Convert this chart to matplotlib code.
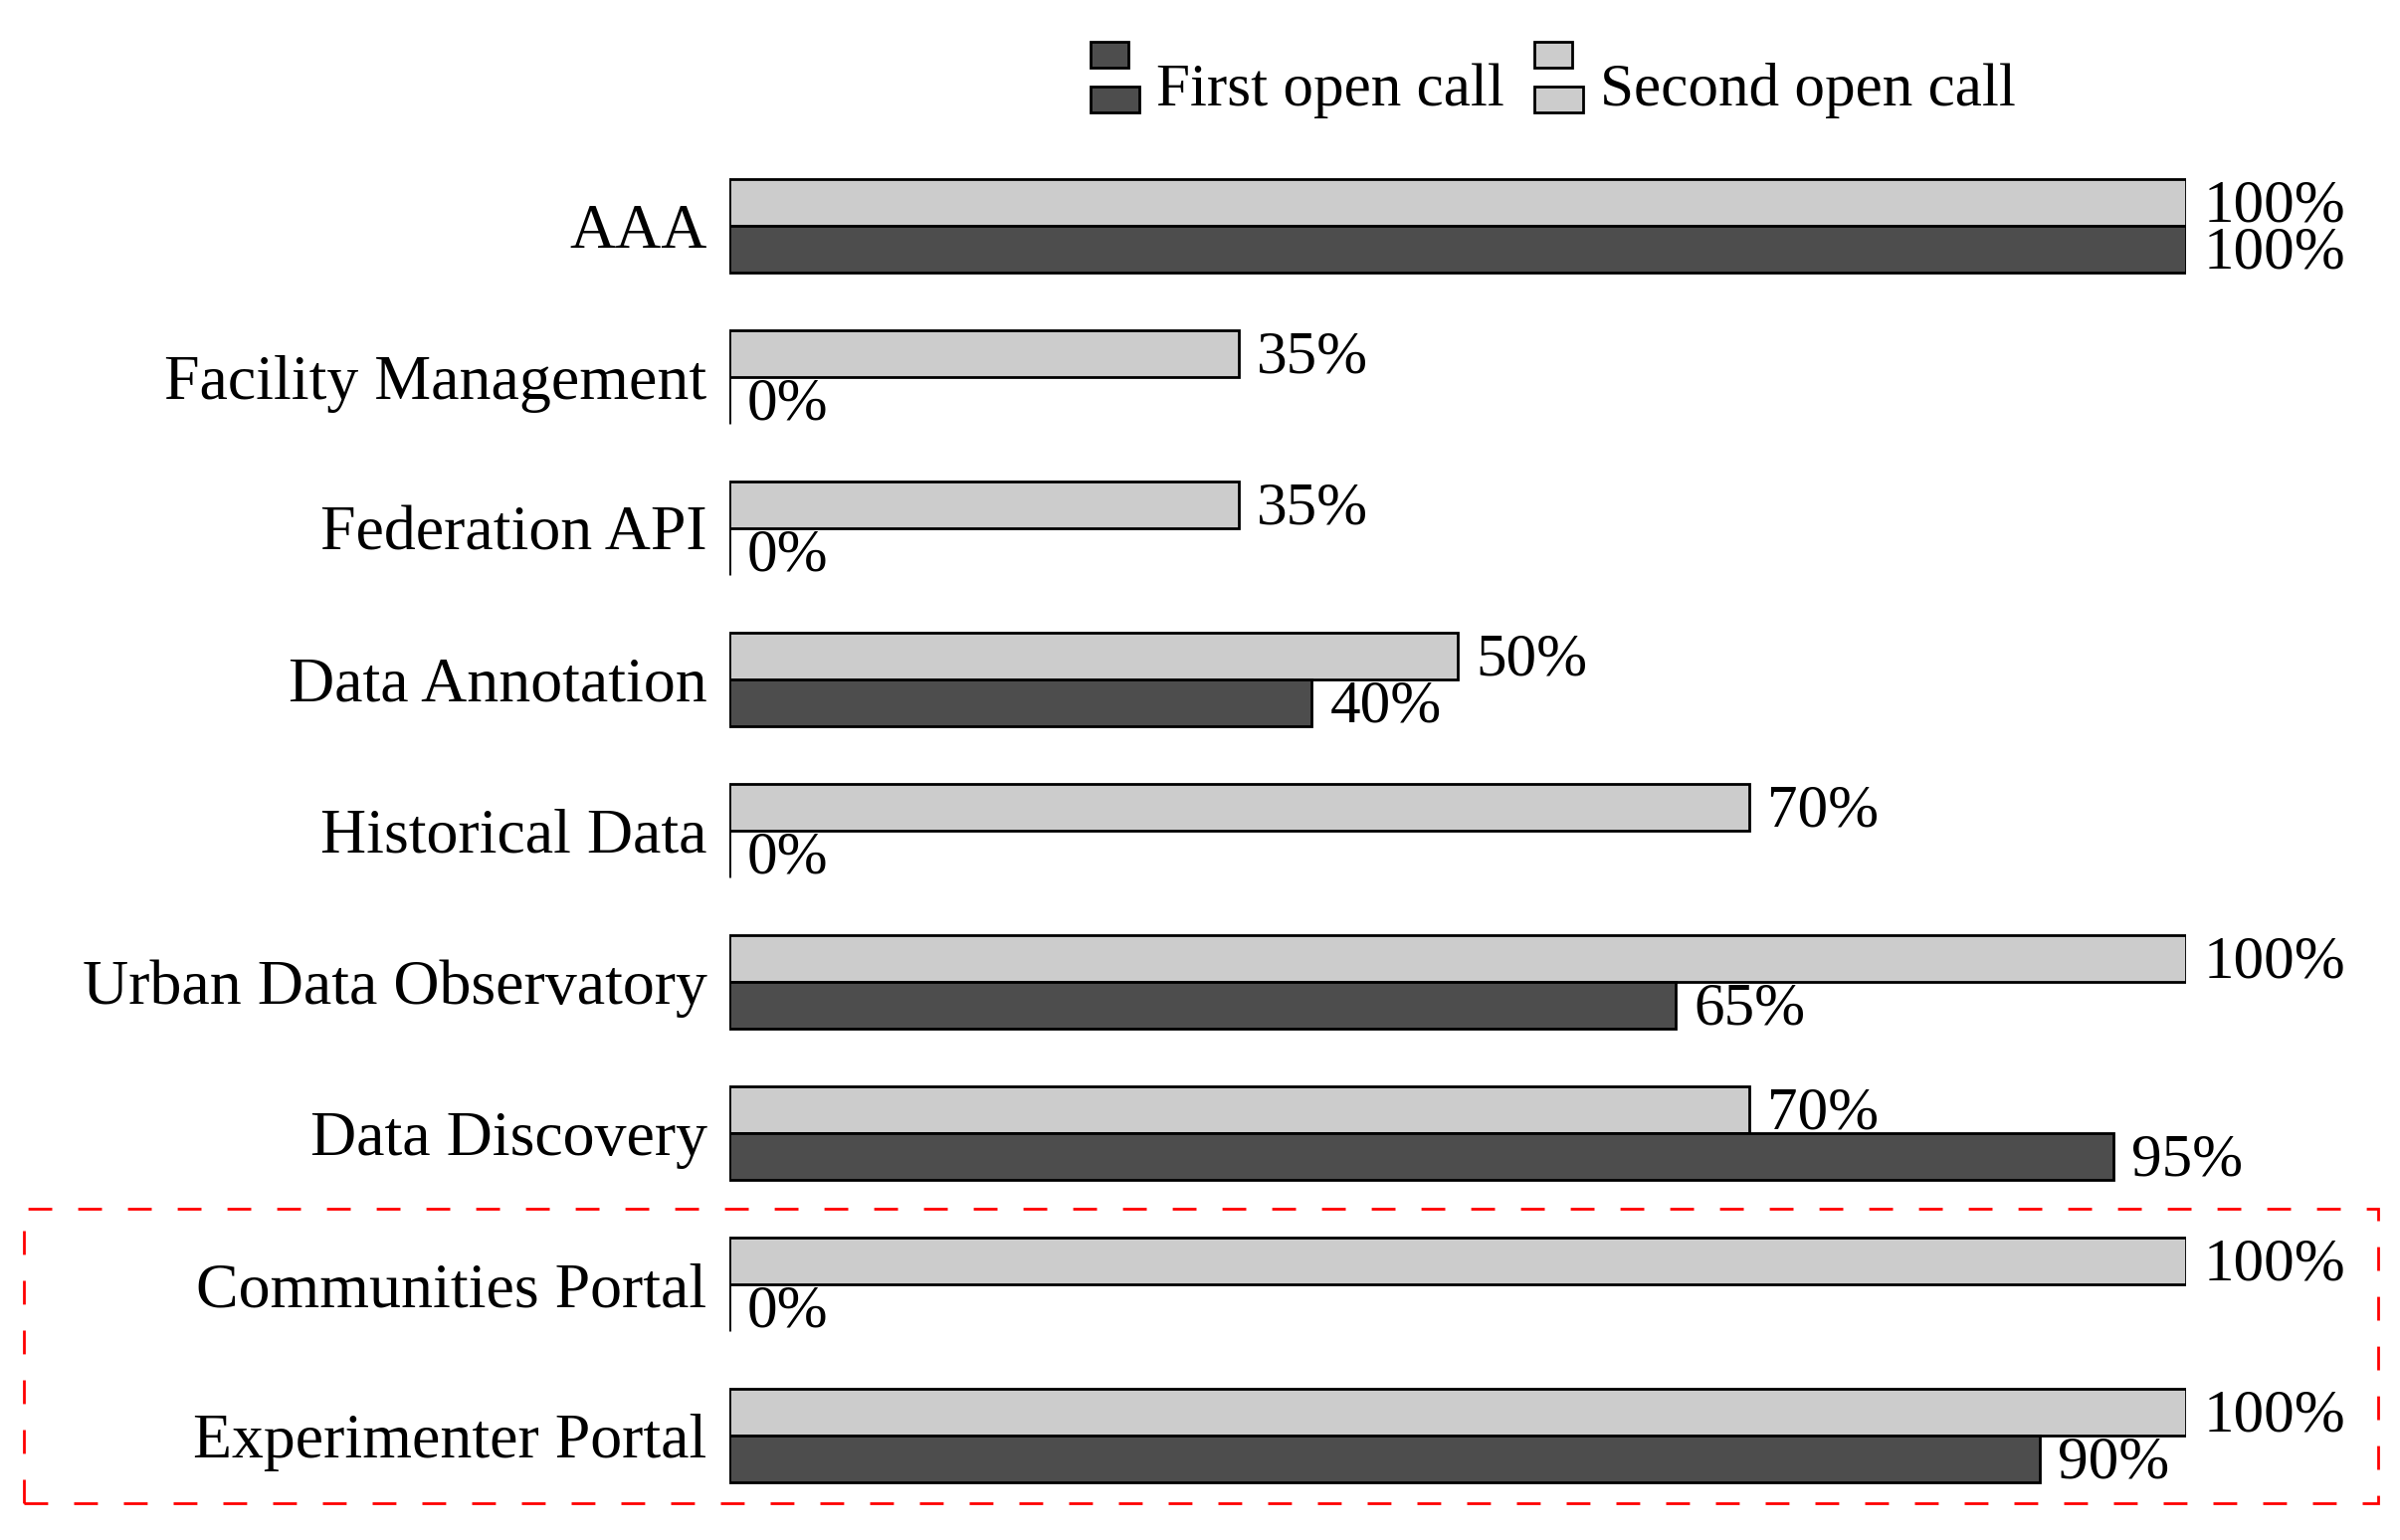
import matplotlib
matplotlib.use('Agg')
import matplotlib.pyplot as plt
from matplotlib.patches import Rectangle
from matplotlib.legend_handler import HandlerBase

categories = ['AAA', 'Facility Management', 'Federation API', 'Data Annotation',
              'Historical Data', 'Urban Data Observatory', 'Data Discovery',
              'Communities Portal', 'Experimenter Portal']
first_call = [100, 0, 0, 40, 0, 65, 95, 0, 90]
second_call = [100, 35, 35, 50, 70, 100, 70, 100, 100]
series_names = ['First open call', 'Second open call']

DARK = '#4d4d4d'
LIGHT = '#cccccc'

plt.rcParams['font.family'] = ['Liberation Serif', 'DejaVu Serif']
plt.rcParams['font.size'] = 22


# pgfplots-style legend image: two stacked little bars
class TwoBarHandler(HandlerBase):
    def create_artists(self, legend, orig_handle, xdescent, ydescent,
                       width, height, fontsize, trans):
        fc = orig_handle.get_facecolor()
        bh = height * 27 / 75
        shift = height * 0.12
        low = Rectangle((-xdescent, -ydescent + shift), width, bh,
                        facecolor=fc, edgecolor='black', linewidth=1, transform=trans)
        top = Rectangle((-xdescent, -ydescent + shift + height * 48 / 75), width * 38 / 49, bh,
                        facecolor=fc, edgecolor='black', linewidth=1, transform=trans)
        return [low, top]


fig = plt.figure(figsize=(12.06, 7.74), dpi=200)
ax = fig.add_axes([0.3038, 0.0187, 0.607, 0.8838])

y = list(range(len(categories)))
h = 0.31
second = ax.barh([i - h / 2 for i in y], second_call, height=h,
                 color=LIGHT, edgecolor='black', linewidth=1)
first = ax.barh([i + h / 2 for i in y], first_call, height=h,
                color=DARK, edgecolor='black', linewidth=1)

for bars, vals in ((second, second_call), (first, first_call)):
    for b, v in zip(bars, vals):
        ax.annotate(f'{v}%', xy=(v, b.get_y() + b.get_height() / 2),
                    xytext=(6.5, -1.5), textcoords='offset points',
                    ha='left', va='center')

ax.set_xlim(0, 100)
ax.set_ylim(len(categories) - 0.5, -0.5)
ax.set_yticks(y)
ax.set_yticklabels(categories, fontsize=23)
ax.tick_params(axis='y', length=0, pad=8)
ax.xaxis.set_visible(False)
for s in ax.spines.values():
    s.set_visible(False)

fig.legend([first[0], second[0]], series_names, handler_map={Rectangle: TwoBarHandler()},
           loc='center left', bbox_to_anchor=(1096 / 2412, 1 - 86 / 1548),
           ncol=2, frameon=False, borderpad=0, borderaxespad=0,
           handlelength=0.80, handleheight=1.4, handletextpad=0.28, columnspacing=0.5)

# red dashed box around the portals
box = Rectangle((24 / 2412, 1 - 1511 / 1548), (2390 - 24) / 2412, (1511 - 1215) / 1548,
                transform=fig.transFigure, fill=False, edgecolor='red',
                linewidth=1, linestyle=(0, (8.6, 9.4)))
fig.patches.append(box)

fig.savefig('out.png', dpi=200)
